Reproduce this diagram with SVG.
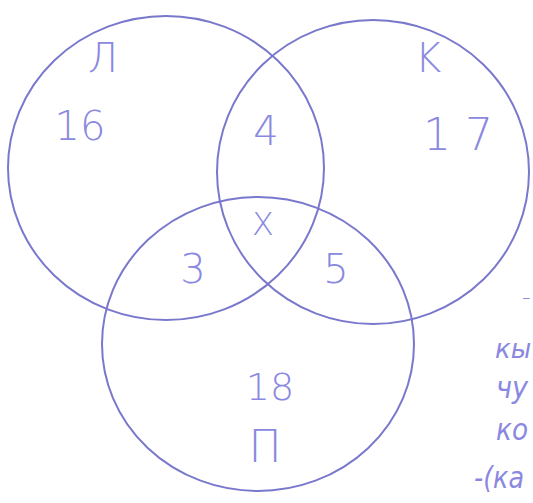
<svg xmlns="http://www.w3.org/2000/svg" width="533" height="503" viewBox="0 0 533 503">
<style>
.c{fill:none;stroke:#7a78cc;stroke-width:2}
.t{font-family:"DejaVu Sans",sans-serif;fill:#8a88e0;font-weight:300}
.s{font-family:"DejaVu Sans",sans-serif;fill:#8a88e0;font-style:italic;font-size:30px}
</style>
<rect width="533" height="503" fill="#fff"/>
<g id="connectors"></g>
<g id="circle-L"><ellipse class="c" cx="166" cy="168" rx="158" ry="152"/></g>
<g id="circle-K"><ellipse class="c" cx="373" cy="172" rx="156" ry="152"/></g>
<g id="circle-P"><ellipse class="c" cx="258" cy="344" rx="156" ry="147"/></g>
<g id="labels">
<text class="t" x="103" y="72" font-size="40" text-anchor="middle">Л</text>
<text class="t" x="80" y="140" font-size="40" text-anchor="middle">16</text>
<text class="t" x="266" y="145" font-size="40" text-anchor="middle">4</text>
<text class="t" x="428" y="72" font-size="40" text-anchor="middle">K</text>
<text class="t" x="458" y="150" font-size="44" text-anchor="middle">1 7</text>
<text class="t" x="263" y="235" font-size="32" text-anchor="middle">X</text>
<text class="t" x="193" y="283" font-size="40" text-anchor="middle">3</text>
<text class="t" x="336" y="283" font-size="40" text-anchor="middle">5</text>
<text class="t" x="270" y="400" font-size="38" text-anchor="middle">18</text>
<text class="t" x="265" y="462" font-size="44" text-anchor="middle">П</text>
<text class="t" x="522" y="305" font-size="24">-</text>
<text class="s" x="495" y="358" style="font-size:26px">кы</text>
<text class="s" x="496" y="398" textLength="32" lengthAdjust="spacingAndGlyphs">чу</text>
<text class="s" x="496" y="440" textLength="32" lengthAdjust="spacingAndGlyphs">ко</text>
<text class="s" x="474" y="488" textLength="50" lengthAdjust="spacingAndGlyphs">-(ка</text>
</g>
</svg>
